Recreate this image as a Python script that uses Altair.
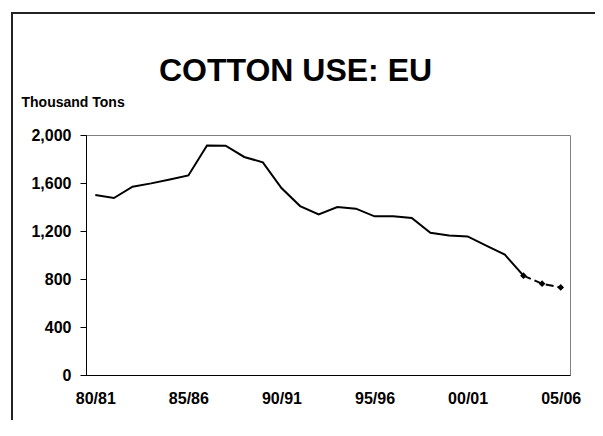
import altair as alt
import pandas as pd

# ---- data ----
seasons = ["80/81", "81/82", "82/83", "83/84", "84/85", "85/86", "86/87", "87/88",
           "88/89", "89/90", "90/91", "91/92", "92/93", "93/94", "94/95", "95/96",
           "96/97", "97/98", "98/99", "99/00", "00/01", "01/02", "02/03", "03/04",
           "04/05", "05/06"]
use_kt = [1500, 1475, 1569, 1597, 1630, 1663, 1913, 1911, 1817, 1772, 1558, 1408,
          1338, 1400, 1386, 1322, 1322, 1308, 1186, 1163, 1155, 1078, 1003, 828,
          761, 730]
first_projected = "03/04"
x_tick_labels = ["80/81", "85/86", "90/91", "95/96", "00/01", "05/06"]
y_tick_values = [0, 400, 800, 1200, 1600, 2000]
title_text = "COTTON USE: EU"
y_title = "Thousand Tons"

FONT = "Liberation Sans"

k = seasons.index(first_projected)
df_actual = pd.DataFrame({"season": seasons[:k + 1], "use": use_kt[:k + 1]})
df_proj = pd.DataFrame({"season": seasons[k:], "use": use_kt[k:]})

x_enc = alt.X(
    "season:O",
    sort=seasons,
    scale=alt.Scale(type="point", domain=seasons, padding=0.5),
    axis=alt.Axis(
        values=x_tick_labels, labelAngle=0, ticks=False, tickSize=0,
        labelPadding=15, title=None, grid=False,
    ),
)
y_enc = alt.Y(
    "use:Q",
    scale=alt.Scale(domain=[0, 2000], nice=False, zero=True),
    axis=alt.Axis(
        values=y_tick_values, format=",.0f", tickSize=6, labelPadding=9, grid=False,
        title=y_title, titleAngle=0, titleX=-65, titleY=-29, titleAlign="left",
        titleBaseline="alphabetic", titleFontSize=14, titleFont=FONT,
        titleFontWeight="bold", titleColor="black",
    ),
)

actual = alt.Chart(df_actual).mark_line(color="black", strokeWidth=2).encode(x=x_enc, y=y_enc)
proj = alt.Chart(df_proj).mark_line(color="black", strokeWidth=2, strokeDash=[8, 4]).encode(x=x_enc, y=y_enc)
pts = alt.Chart(df_proj).mark_point(
    shape="diamond", filled=True, size=45, color="black", opacity=1
).encode(x=x_enc, y=y_enc)

title = alt.Chart(alt.Data(values=[{"t": title_text}])).mark_text(
    font=FONT, fontSize=32, fontWeight="bold", align="center",
    baseline="alphabetic", color="black",
).encode(text="t:N", x=alt.value(209.5), y=alt.value(-54))

frame = alt.Chart(alt.Data(values=[{"f": 1}])).mark_rect(
    fill="transparent", stroke="#222222", strokeWidth=2
).encode(x=alt.value(-74), y=alt.value(-122), x2=alt.value(700), y2=alt.value(600))

chart = alt.layer(frame, title, actual, proj, pts).properties(
    width=484,
    height=240,
    autosize=alt.AutoSizeParams(type="none"),
    padding={"left": 78, "top": 127, "right": 25, "bottom": 45},
    background="white",
).configure_view(
    stroke="#808080", strokeWidth=1
).configure_axis(
    domainColor="black", domainWidth=1, tickColor="black", tickWidth=1,
    labelColor="black", labelFont=FONT, labelFontSize=16, labelFontWeight="bold",
)

chart.save("out.html", embed_options={"renderer": "svg", "actions": False})
